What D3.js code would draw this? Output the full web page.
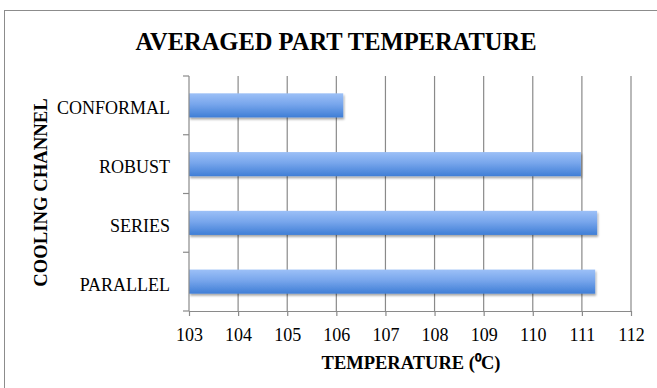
<!DOCTYPE html>
<html><head><meta charset="utf-8">
<script src="https://cdn.jsdelivr.net/npm/d3@7"></script>
<style>body{margin:0;background:#fff;}svg{display:block;}</style>
</head><body>
<svg id="c" width="657" height="388"></svg>
<script>
const categories = ["PARALLEL", "SERIES", "ROBUST", "CONFORMAL"];
const values = [111.27, 111.31, 110.98, 106.14];
const xTicks = [103, 104, 105, 106, 107, 108, 109, 110, 111, 112];
const title = "AVERAGED PART TEMPERATURE";
const xTitle = "TEMPERATURE (⁰C)";
const yTitle = "COOLING CHANNEL";

const svg = d3.select("#c");
const font = "'Liberation Serif','Times New Roman',serif";
const m = {left: 189, right: 631, top: 76, bottom: 311};

// outer frame
svg.append("rect").attr("x", 4.5).attr("y", 10.5).attr("width", 700).attr("height", 500)
  .attr("fill", "#fff").attr("stroke", "#8c8c8c").attr("stroke-width", 1);

const x = d3.scaleLinear().domain([103, 112]).range([m.left, m.right]);
const y = d3.scaleBand().domain(categories.slice().reverse()).range([m.top, m.bottom]).paddingInner(0.59).paddingOuter(0.295);

const defs = svg.append("defs");
const g = defs.append("linearGradient").attr("id", "bg").attr("x1", 0).attr("y1", 0).attr("x2", 0).attr("y2", 1);
g.append("stop").attr("offset", "0%").attr("stop-color", "#9cc0f7");
g.append("stop").attr("offset", "45%").attr("stop-color", "#78a6ec");
g.append("stop").attr("offset", "100%").attr("stop-color", "#3f7ed6");
const f = defs.append("filter").attr("id", "sh").attr("x", "-5%").attr("y", "-20%").attr("width", "110%").attr("height", "160%");
f.append("feDropShadow").attr("dx", 1).attr("dy", 2).attr("stdDeviation", 1.2).attr("flood-color", "#000").attr("flood-opacity", 0.35);

// gridlines
svg.append("g").selectAll("line").data(xTicks.slice(1)).join("line")
  .attr("x1", d => x(d)).attr("x2", d => x(d)).attr("y1", m.top).attr("y2", m.bottom)
  .attr("stroke", "#8a8a8a").attr("stroke-width", 1.2);

// bars
svg.append("g").selectAll("rect").data(categories).join("rect")
  .attr("x", x(103)).attr("y", d => y(d))
  .attr("width", (d, i) => x(values[i]) - x(103)).attr("height", y.bandwidth())
  .attr("fill", "url(#bg)").attr("filter", "url(#sh)");

// x axis
const xa = svg.append("g").attr("transform", `translate(0,${m.bottom})`)
  .call(d3.axisBottom(x).tickValues(xTicks).tickFormat(d3.format("d")).tickSize(5).tickSizeOuter(0));
xa.select(".domain").attr("stroke", "#8a8a8a").attr("stroke-width", 1.2);
xa.selectAll(".tick line").attr("stroke", "#8a8a8a").attr("stroke-width", 1.2);
xa.selectAll("text").attr("y", 30).attr("dy", 0).attr("font-family", font).attr("font-size", 18).attr("fill", "#000");

// y axis
const yBound = d3.scaleLinear().domain([0, 4]).range([m.bottom, m.top]);
const ya = svg.append("g").attr("transform", `translate(${m.left},0)`);
ya.append("line").attr("x1", 0).attr("x2", 0).attr("y1", m.top).attr("y2", m.bottom).attr("stroke", "#8a8a8a").attr("stroke-width", 1.2);
ya.selectAll("line.t").data(d3.range(5)).join("line").attr("class", "t")
  .attr("x1", -6).attr("x2", 0).attr("y1", d => yBound(d)).attr("y2", d => yBound(d))
  .attr("stroke", "#8a8a8a").attr("stroke-width", 1.2);
ya.selectAll("text").data(categories).join("text")
  .attr("x", -19).attr("y", d => y(d) + y.bandwidth() / 2 + 9)
  .attr("text-anchor", "end").attr("font-family", font).attr("font-size", 18).attr("fill", "#000").text(d => d);

// titles
svg.append("text").attr("x", 336).attr("y", 50).attr("text-anchor", "middle")
  .attr("font-family", font).attr("font-weight", "bold").attr("font-size", 24.5).text(title);
svg.append("text").attr("x", 411).attr("y", 369).attr("text-anchor", "middle")
  .attr("font-family", font).attr("font-weight", "bold").attr("font-size", 18.5).text(xTitle);
svg.append("text").attr("transform", "translate(47,192.5) rotate(-90)").attr("text-anchor", "middle")
  .attr("font-family", font).attr("font-weight", "bold").attr("font-size", 18.7).text(yTitle);
</script>
</body></html>
